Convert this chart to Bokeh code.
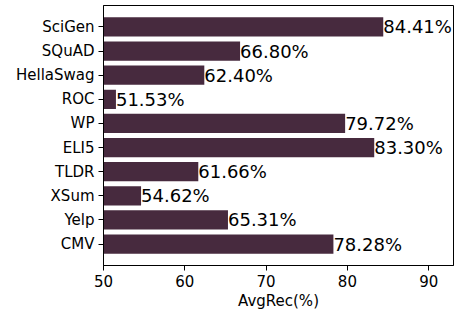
from bokeh.plotting import figure
from bokeh.models import ColumnDataSource, Range1d, FactorRange, FixedTicker
from bokeh.embed import file_html
from bokeh.resources import INLINE
from bokeh.core.properties import value

datasets = ["SciGen", "SQuAD", "HellaSwag", "ROC", "WP", "ELI5", "TLDR", "XSum", "Yelp", "CMV"]
avgrec = [84.41, 66.80, 62.40, 51.53, 79.72, 83.30, 61.66, 54.62, 65.31, 78.28]
x_ticks = [50, 60, 70, 80, 90]
x_title = "AvgRec(%)"

labels = ["%.2f%%" % v for v in avgrec]
src = ColumnDataSource(dict(cat=datasets, val=avgrec, lab=labels, left=[50] * len(avgrec)))

p = figure(width=456, height=312, output_backend="svg", toolbar_location=None,
           y_range=FactorRange(factors=datasets[::-1], range_padding=0.078),
           x_range=Range1d(50, 93.05),
           min_border_left=103, min_border_right=3, min_border_top=5, min_border_bottom=46)

p.hbar(y="cat", left="left", right="val", height=0.8, source=src,
       fill_color="#472a3e", line_color=None)
p.text(x="val", y="cat", text="lab", source=src, text_align="left", text_baseline="middle",
       text_font=value("DejaVu Sans"), text_font_size="18px", text_color="black")

p.xgrid.visible = False
p.ygrid.visible = False
p.outline_line_color = "black"
p.outline_line_width = 1
p.outline_line_alpha = 1

p.xaxis.ticker = FixedTicker(ticks=x_ticks)
p.xaxis.axis_label = x_title
for ax in (p.xaxis[0], p.yaxis[0]):
    ax.axis_line_color = "black"
    ax.major_tick_line_color = "black"
    ax.major_tick_out = 5
    ax.major_tick_in = 0
    ax.minor_tick_line_color = None
    ax.major_label_text_font = "DejaVu Sans"
    ax.major_label_text_font_size = "15px"
    ax.major_label_text_color = "black"
    ax.axis_label_text_font = "DejaVu Sans"
    ax.axis_label_text_font_size = "15px"
    ax.axis_label_text_font_style = "normal"
    ax.axis_label_text_color = "black"
p.xaxis.axis_label_standoff = 2
p.xaxis.major_label_standoff = 4
p.yaxis.major_label_standoff = 4

open("out.html", "w").write(file_html(p, INLINE))
